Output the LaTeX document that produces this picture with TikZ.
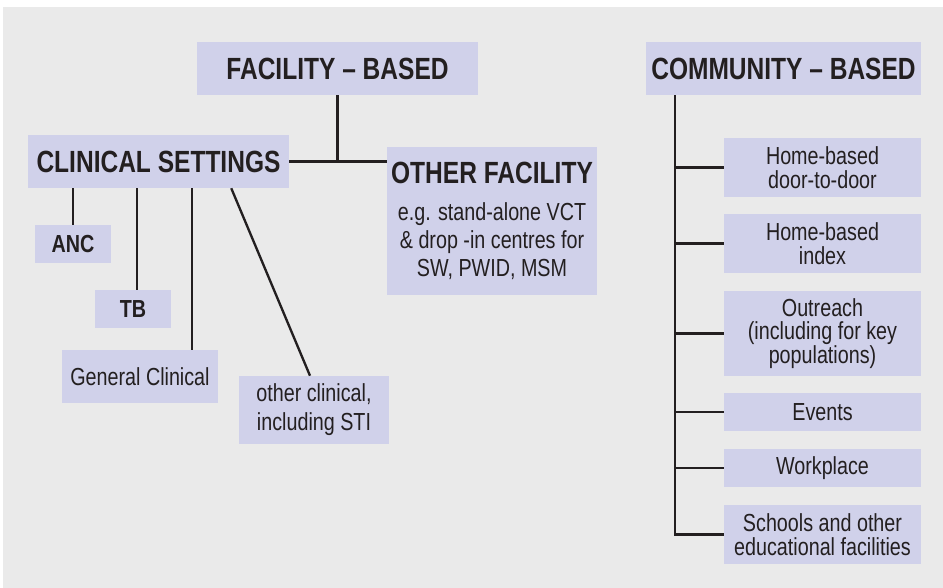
\documentclass[tikz,border=0pt]{standalone}
\usepackage{fontspec}
\setmainfont[FakeStretch=0.8]{Liberation Sans}
\definecolor{bgGray}{RGB}{234,234,234}
\definecolor{boxLav}{RGB}{208,209,234}
\definecolor{inkDark}{RGB}{35,31,32}
\begin{document}
\begin{tikzpicture}[x=0.75pt,y=0.75pt,yscale=-1,xscale=1,
  lbox/.style={fill=boxLav, text=inkDark, inner sep=0pt, align=center, font=\fontsize{18.5}{17.6}\selectfont},
  hbox/.style={lbox, font=\bfseries\fontsize{23}{23}\selectfont},
  sbox/.style={lbox, font=\bfseries\fontsize{18.5}{18.5}\selectfont, minimum width=57pt, minimum height=28.5pt},
  rbox/.style={lbox, minimum width=147.75pt},
  link/.style={draw=inkDark, line width=1.75pt}]
\useasboundingbox (0,0) rectangle (943,588);
%Shape: Rectangle [background]
\fill [bgGray] (3,7) rectangle (943,588);

% Text Node
\node (fac) at (337.5,68.5) [hbox, minimum width=210.75pt, minimum height=39.75pt] {FACILITY – BASED};
% Text Node
\node (com) at (783.5,68.5) [hbox, minimum width=206.25pt, minimum height=39.75pt] {COMMUNITY – BASED};
% Text Node
\node (clin) at (158.5,161.5) [hbox, minimum width=195.75pt, minimum height=39.75pt] {CLINICAL SETTINGS};
% Text Node
\node (other) at (492,221) [lbox, font=\fontsize{18.5}{21}\selectfont, minimum width=157.5pt, minimum height=111pt] {{\bfseries\fontsize{23}{21}\selectfont OTHER FACILITY}\\[6.75pt] e.g. stand-alone VCT\\ \& drop -in centres for\\ SW, PWID, MSM};

% Text Node
\node (anc) at (73,244) [sbox] {ANC};
% Text Node
\node (tb) at (133,309) [sbox] {TB};
% Text Node
\node (gen) at (140,376.5) [lbox, minimum width=117pt, minimum height=39.75pt] {General Clinical};
% Text Node
\node (oth) at (314,410) [lbox, font=\fontsize{18.5}{21.75}\selectfont, minimum width=112.5pt, minimum height=51pt] {other clinical,\\ including STI};

% Text Node
\node (h1) at (822.5,167.5) [rbox, minimum height=44.25pt] {Home-based\\ door-to-door};
% Text Node
\node (h2) at (822.5,243.5) [rbox, minimum height=44.25pt] {Home-based\\ index};
% Text Node
\node (outr) at (822.5,333.5) [rbox, minimum height=63.75pt] {Outreach\\ (including for key\\ populations)};
% Text Node
\node (evt) at (822.5,412) [rbox, minimum height=28.5pt] {Events};
% Text Node
\node (wkp) at (822.5,468) [rbox, minimum height=28.5pt] {Workplace};
% Text Node
\node (sch) at (822.5,534.5) [rbox, minimum height=44.25pt] {Schools and other\\ educational facilities};

%Straight Lines [facility branch]
\coordinate (fj) at (fac.south |- clin.east);
\draw [link] (fac.south) -- (fj);
\draw [link] (clin.east) -- (clin.east -| other.west);
%Straight Lines [clinical settings]
\coordinate (tbtop) at ([xshift=3pt]tb.north);
\coordinate (gentop) at ([xshift=-19.5pt]gen.north east);
\coordinate (othfoot) at ([xshift=-43.5pt]clin.south east);
\draw [link] (clin.south -| anc.north) -- (anc.north);
\draw [link] (clin.south -| tbtop) -- (tbtop);
\draw [link] (clin.south -| gentop) -- (gentop);
\draw [link] (othfoot) -- ([xshift=-3pt]oth.north);
%Straight Lines [community trunk]
\coordinate (trunk) at ([xshift=21.75pt]com.south west);
\draw [link] (trunk) |- (sch.west);
\foreach \b in {h1,h2,outr,evt,wkp}
  \draw [link] (trunk |- \b.west) -- (\b.west);

\end{tikzpicture}
\end{document}
